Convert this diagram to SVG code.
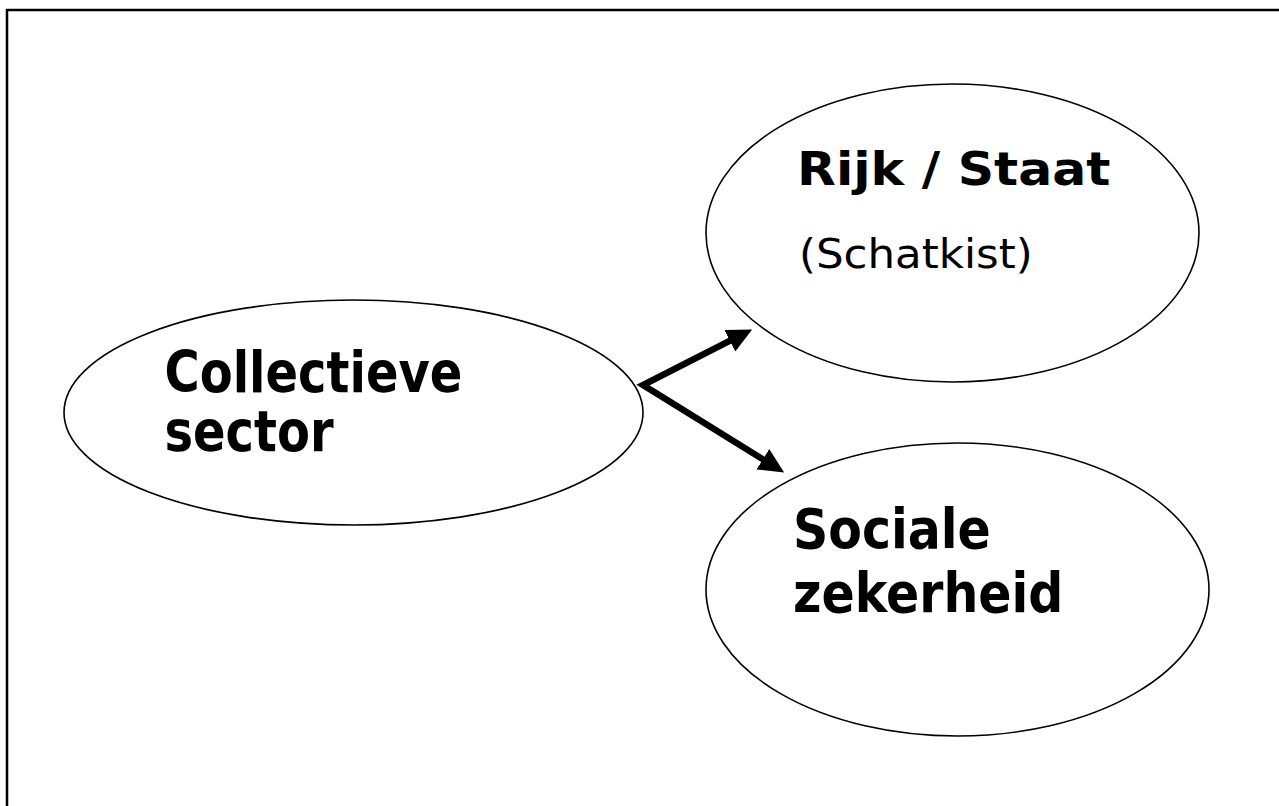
<svg xmlns="http://www.w3.org/2000/svg" width="1279" height="806" viewBox="0 0 1279 806">
  <style>
    .node { fill: #ffffff; stroke: #000000; stroke-width: 1.6; }
    .label { font-family: "DejaVu Sans", Verdana, sans-serif; fill: #000000; }
    .bold { font-weight: bold; }
    .link { fill: none; stroke: #000000; stroke-width: 6.5; stroke-linejoin: miter; stroke-miterlimit: 10; }
  </style>
  <defs>
    <marker id="head" viewBox="0 0 25 24" markerWidth="25" markerHeight="24" markerUnits="userSpaceOnUse" refX="8" refY="12" orient="auto-start-reverse">
      <path d="M0,0 L25,12 L0,24 z" fill="#000000"/>
    </marker>
  </defs>

  <rect width="1279" height="806" fill="#ffffff"/>
  <!-- outer frame, continues past the right and bottom edges -->
  <rect x="7" y="10" width="1300" height="830" fill="none" stroke="#000000" stroke-width="2.5"/>

  <g id="collectieve-sector">
    <ellipse class="node" cx="353.5" cy="412.5" rx="289.5" ry="112.5"/>
    <text class="label bold" font-size="48" transform="translate(164.5,392) scale(1,1.17)">Collectieve</text>
    <text class="label bold" font-size="48" transform="translate(164.5,451) scale(1,1.17)">sector</text>
  </g>

  <g id="rijk-staat">
    <ellipse class="node" cx="952.5" cy="233" rx="246.5" ry="149"/>
    <text class="label bold" font-size="50.5" transform="translate(797,185) scale(1,0.9)">Rijk / Staat</text>
    <text class="label" font-size="43.5" transform="translate(799,268) scale(1,0.92)">(Schatkist)</text>
  </g>

  <g id="sociale-zekerheid">
    <ellipse class="node" cx="957.5" cy="589.5" rx="251.5" ry="146.5"/>
    <text class="label bold" font-size="49" transform="translate(793,548) scale(1,1.14)">Sociale</text>
    <text class="label bold" font-size="49" transform="translate(793,612) scale(1,1.14)">zekerheid</text>
  </g>

  <g id="connectors">
    <path class="link" d="M737,337.2 L643,385 L769.7,463.5" marker-start="url(#head)" marker-end="url(#head)"/>
  </g>
</svg>
